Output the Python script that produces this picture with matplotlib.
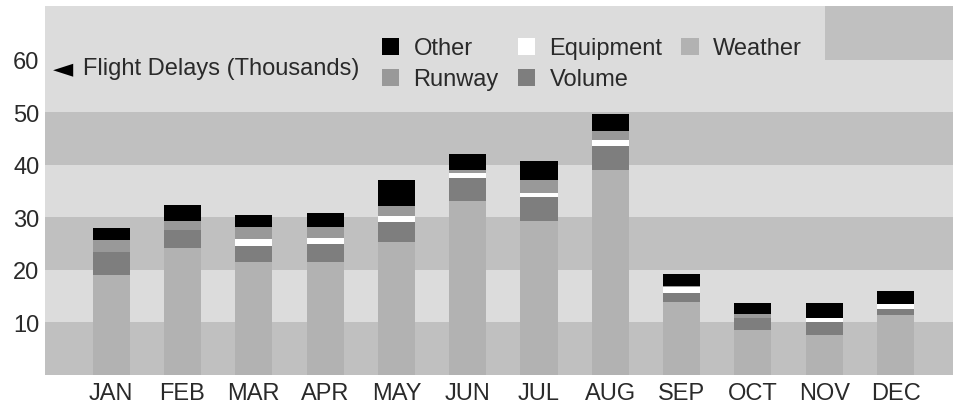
import matplotlib
matplotlib.use("Agg")
import matplotlib.pyplot as plt
from matplotlib.patches import Rectangle, Patch
import numpy as np

plt.rcParams["font.family"] = ["Liberation Sans", "DejaVu Sans"]

# ── data (thousands of delayed flights) ────────────────────────────────────
months    = ["JAN", "FEB", "MAR", "APR", "MAY", "JUN",
             "JUL", "AUG", "SEP", "OCT", "NOV", "DEC"]
weather   = [19.1, 24.1, 21.6, 21.5, 25.4, 33.2, 29.4, 39.0, 13.9, 8.6, 7.7, 11.5]
volume    = [4.4, 3.5, 3.0, 3.5, 3.8, 4.3, 4.5, 4.6, 1.8, 2.2, 2.3, 1.0]
equipment = [0.0, 0.0, 1.3, 1.0, 1.0, 1.0, 0.7, 1.1, 1.1, 0.0, 0.9, 1.0]
runway    = [2.3, 1.8, 2.2, 2.1, 1.9, 0.5, 2.5, 1.8, 0.2, 0.8, 0.0, 0.0]
other     = [2.2, 2.9, 2.3, 2.7, 5.0, 3.0, 3.6, 3.3, 2.2, 2.2, 2.9, 2.5]
yticks    = [10, 20, 30, 40, 50, 60]

SERIES = [
    ("Weather", weather, "#b2b2b2"),
    ("Volume", volume, "#7e7e7e"),
    ("Equipment", equipment, "#ffffff"),
    ("Runway", runway, "#999999"),
    ("Other", other, "#000000"),
]
LIGHT = "#dcdcdc"
DARK = "#c0c0c0"
TEXT = "#2a2a2a"
FS = 17

fig = plt.figure(figsize=(9.54, 4.06), dpi=100)
ax = fig.add_axes([0.047, 0.074, 0.953, 0.909])
ax.set_facecolor(LIGHT)

# ── horizontal bands ───────────────────────────────────────────────────────
for lo in (0, 20, 40):
    ax.axhspan(lo, lo + 10, color=DARK, zorder=0, lw=0)
ax.add_patch(Rectangle((0.858, 60), 0.2, 12, transform=ax.get_yaxis_transform(),
                       facecolor=DARK, edgecolor="none", zorder=0))

# ── stacked bars ───────────────────────────────────────────────────────────
x = np.arange(len(months))
bottom = np.zeros(len(months))
handles = {}
for name, vals, color in SERIES:
    ax.bar(x, vals, bottom=bottom, width=0.52, color=color, zorder=2, lw=0)
    bottom += np.array(vals)
    handles[name] = Patch(facecolor=color, edgecolor="none")

ax.set_xlim(-0.93, 11.82)
ax.set_ylim(0, 70.3)
ax.set_xticks(x)
ax.set_xticklabels(months, fontsize=FS, color=TEXT)
ax.set_yticks(yticks)
ax.set_yticklabels([str(t) for t in yticks], fontsize=FS, color=TEXT)
ax.tick_params(length=0, pad=4)
ax.tick_params(axis="x", pad=5)
for s in ax.spines.values():
    s.set_visible(False)

# ── annotation + legend ────────────────────────────────────────────────────
ax.text(0.009, 58.4, "\u25c4", fontsize=19, color="black", va="center",
        family="DejaVu Sans", transform=ax.get_yaxis_transform())
ax.text(0.042, 58.4, "Flight Delays (Thousands)", fontsize=FS, color=TEXT,
        va="center", transform=ax.get_yaxis_transform())

order = ["Other", "Runway", "Equipment", "Volume", "Weather"]
leg = ax.legend([handles[n] for n in order], order, ncol=3, loc="upper left",
                bbox_to_anchor=(0.36, 0.94), frameon=False, fontsize=FS,
                handlelength=0.75, handleheight=0.75, handletextpad=0.6,
                columnspacing=0.8, labelspacing=0.38, borderaxespad=0)
for t in leg.get_texts():
    t.set_color(TEXT)

fig.savefig("out.png", dpi=100, facecolor="white")
